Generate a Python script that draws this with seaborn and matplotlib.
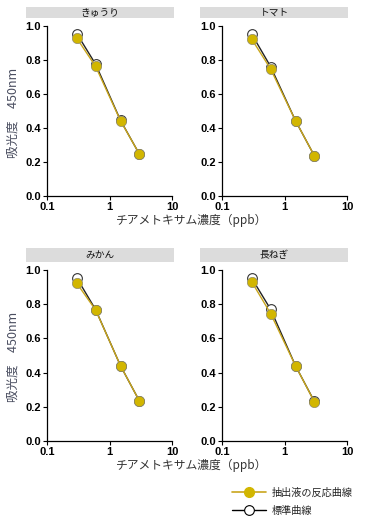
"""
チアメトキサム ELISA: 抽出液の反応曲線 vs 標準曲線 (4 crops)
"""

import matplotlib
matplotlib.use("Agg")
import matplotlib.pyplot as plt
import seaborn as sns
import pandas as pd
from matplotlib.patches import Rectangle
from matplotlib.lines import Line2D

sns.set_style("ticks")
plt.rcParams['font.family'] = ['Liberation Sans', 'Noto Sans CJK JP', 'DejaVu Sans']

# data
concentration = [0.3, 0.6, 1.5, 3.0]   # ppb
crops = ['きゅうり', 'トマト', 'みかん', '長ねぎ']
standard = {
    'きゅうり': [0.955, 0.775, 0.445, 0.247],
    'トマト':   [0.951, 0.761, 0.443, 0.237],
    'みかん':   [0.953, 0.768, 0.440, 0.235],
    '長ねぎ':   [0.951, 0.770, 0.440, 0.232],
}
extract = {
    'きゅうり': [0.928, 0.762, 0.443, 0.247],
    'トマト':   [0.922, 0.747, 0.443, 0.237],
    'みかん':   [0.922, 0.766, 0.440, 0.235],
    '長ねぎ':   [0.930, 0.745, 0.440, 0.230],
}
legend_labels = ['抽出液の反応曲線', '標準曲線']
x_label = 'チアメトキサム濃度（ppb）'
y_label = '吸光度　450nm'

GOLD = '#D2B600'
GOLD_LINE = '#C9A61C'
STRIP = '#DCDCDC'
CJK = ['Noto Sans CJK JP', 'DejaVu Sans']

W, H = 368, 523

# panel geometry in pixels: axes l, r, t, b then strip l, r, t, b
PANELS = [
    (47, 172, 26, 196, 26, 174, 7, 18),
    (222, 347, 26, 196, 200, 348, 7, 18),
    (47, 172, 270, 441, 26, 174, 248, 262),
    (222, 347, 270, 441, 200, 348, 248, 262),
]


def fx(px):
    return px / W


def fy(py):
    return 1 - py / H


def draw_panel(fig, geom, crop):
    al, ar, at, ab, sl, sr, st, sb = geom
    ax = fig.add_axes([fx(al), fy(ab), fx(ar - al), (ab - at) / H])

    df_std = pd.DataFrame({'conc': concentration, 'od': standard[crop]})
    df_ext = pd.DataFrame({'conc': concentration, 'od': extract[crop]})

    sns.lineplot(data=df_std, x='conc', y='od', ax=ax, color='#222222',
                 linewidth=1.0, marker='o', markersize=7,
                 markerfacecolor='white', markeredgecolor='#333333',
                 markeredgewidth=0.8, zorder=2)
    sns.lineplot(data=df_ext, x='conc', y='od', ax=ax, color=GOLD_LINE,
                 linewidth=1.0, marker='o', markersize=7.4,
                 markerfacecolor=GOLD, markeredgecolor='#8f8a6a',
                 markeredgewidth=0.5, zorder=3)

    ax.set_xscale('log')
    ax.set_xlim(0.1, 10)
    ax.set_ylim(0, 1.0)
    ax.set_xticks([0.1, 1, 10])
    ax.set_xticklabels(['0.1', '1', '10'])
    ax.minorticks_off()
    ax.set_yticks([0, 0.2, 0.4, 0.6, 0.8, 1.0])
    ax.set_yticklabels(['0.0', '0.2', '0.4', '0.6', '0.8', '1.0'])
    ax.tick_params(axis='both', labelsize=8, length=3, width=0.8,
                   color='black', labelcolor='black', pad=1.5)
    for lab in ax.get_xticklabels() + ax.get_yticklabels():
        lab.set_fontweight('bold')
    ax.set_xlabel('')
    ax.set_ylabel('')
    for side in ['top', 'right']:
        ax.spines[side].set_visible(False)
    for side in ['left', 'bottom']:
        ax.spines[side].set_linewidth(0.9)
        ax.spines[side].set_color('black')
    ax.patch.set_alpha(0)

    # strip header
    fig.add_artist(Rectangle((fx(sl), fy(sb)), fx(sr - sl), (sb - st) / H,
                             transform=fig.transFigure, facecolor=STRIP,
                             edgecolor='none'))
    fig.text(fx((sl + sr) / 2), fy((st + sb) / 2), crop, ha='center',
             va='center', fontsize=7, color='#111111', family=CJK)
    return ax


def main():
    fig = plt.figure(figsize=(W / 100, H / 100), dpi=100)
    fig.patch.set_facecolor('white')

    for geom, crop in zip(PANELS, crops):
        draw_panel(fig, geom, crop)

    # shared axis labels
    for y_xlabel, y_center in [(220, 113), (465, 357)]:
        fig.text(fx(192), fy(y_xlabel), x_label, ha='center', va='center',
                 fontsize=8.5, color='#333333', family=CJK)
        fig.text(fx(13), fy(y_center), y_label, rotation=90, ha='center',
                 va='center', fontsize=9, color='#4a4e60', family=CJK)

    handles = [
        Line2D([], [], color=GOLD_LINE, linewidth=1.2, marker='o', markersize=7,
               markerfacecolor=GOLD, markeredgecolor=GOLD),
        Line2D([], [], color='black', linewidth=1.0, marker='o', markersize=7,
               markerfacecolor='white', markeredgecolor='black', markeredgewidth=0.8),
    ]
    fig.legend(handles, legend_labels, loc='center left',
               bbox_to_anchor=(fx(227), fy(501.5)), frameon=False,
               prop={'family': CJK, 'size': 7.3},
               handlelength=3.3, handletextpad=0.6, labelspacing=0.8,
               borderpad=0, labelcolor='#222222')

    fig.savefig('out.png', dpi=100, facecolor='white')


if __name__ == "__main__":
    main()
